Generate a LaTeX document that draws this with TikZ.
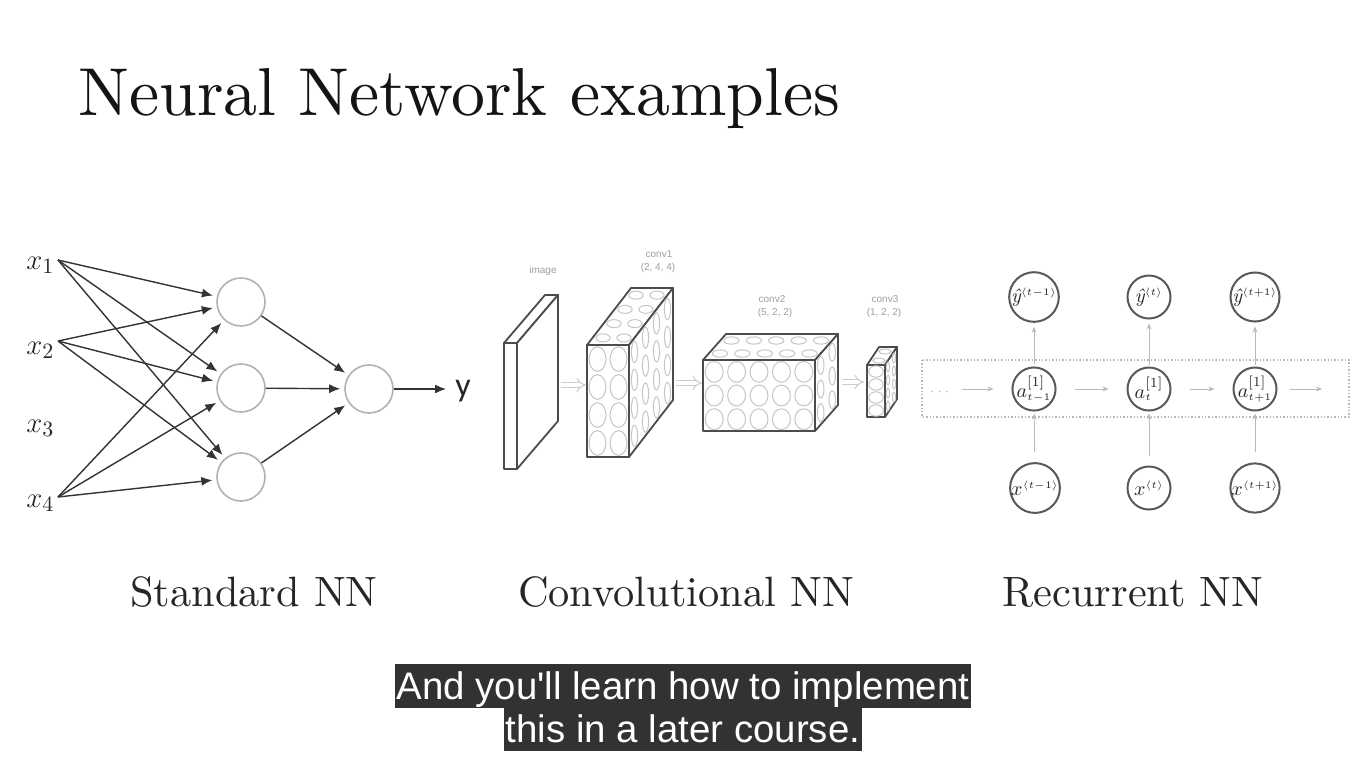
\documentclass[tikz,border=0pt]{standalone}
\usepackage{fontspec}
\usepackage{graphicx}
\usepackage{amsmath}
\usetikzlibrary{arrows.meta}
\newfontfamily\subfont{Liberation Sans}
\newfontfamily\yfont{Carlito}
\definecolor{subbg}{RGB}{50,50,50}

% A feature-map block: front face, top face, side face, each with its cells.
% #1,#2 front top-left; #3 width; #4 height; #5,#6 depth offset;
% #7 columns; #8 rows; #9 layers
\newcommand{\cnnblock}[9]{%
  \draw[cnnface] (#1,#2) -- ({#1+#5},{#2+#6}) -- ({#1+#3+#5},{#2+#6}) -- ({#1+#3},#2) -- cycle;
  \draw[cnnface] ({#1+#3},#2) -- ({#1+#3+#5},{#2+#6}) -- ({#1+#3+#5},{#2+#4+#6}) -- ({#1+#3},{#2+#4}) -- cycle;
  \draw[cnnface] (#1,#2) rectangle ({#1+#3},{#2+#4});
  \pgfmathsetmacro\frx{0.2*#3/#7}\pgfmathsetmacro\fry{0.22*#4/#8}
  \pgfmathsetmacro\trx{0.17*#3/#7}\pgfmathsetmacro\try{-0.14*#6/#9}
  \pgfmathsetmacro\srx{0.14*#5/#9}\pgfmathsetmacro\sry{0.19*#4/#8}
  \foreach \i in {1,...,#7}{\foreach \j in {1,...,#8}{
    \draw[cnncell] ({#1+(\i-0.5)*#3/#7},{#2+(\j-0.5)*#4/#8}) ellipse [x radius=\frx pt, y radius=\fry pt];}}
  \foreach \i in {1,...,#7}{\foreach \k in {1,...,#9}{
    \draw[cnncell] ({#1+(\i-0.5)*#3/#7+(\k-0.5)*#5/#9},{#2+(\k-0.5)*#6/#9}) ellipse [x radius=\trx pt, y radius=\try pt];}}
  \foreach \k in {1,...,#9}{\foreach \j in {1,...,#8}{
    \draw[cnncell] ({#1+#3+(\k-0.5)*#5/#9},{#2+(\j-0.5)*#4/#8+(\k-0.5)*#6/#9}) ellipse [x radius=\srx pt, y radius=\sry pt];}}
}
% predicted output y-hat, as one italic glyph
\newcommand{\yhat}{{\itshape ŷ}}

\begin{document}
\begin{tikzpicture}[x=0.5pt,y=-0.5pt,
  neuron/.style={circle, draw=gray!60, line width=0.8pt, minimum size=24pt, inner sep=0pt},
  edge/.style={draw=black!80, line width=0.7pt, -{Latex[length=5.5pt,width=4.5pt]}, shorten >=2pt},
  xlab/.style={anchor=base west, inner sep=0pt, font=\fontsize{15}{18}\selectfont, text=black!85},
  rnode/.style={circle, draw=black!65, line width=1pt, minimum size=21.5pt, inner sep=0pt,
    font=\fontsize{10}{11}\selectfont, text=black!85},
  rarrow/.style={draw=gray!55, line width=0.4pt, -{Stealth[length=3pt,width=2.4pt]}},
  cnnface/.style={fill=white, draw=black!70, line width=0.9pt, line join=round},
  cnncell/.style={draw=gray!45, line width=0.5pt},
  hollow/.style={draw=gray!40, double=white, double distance=2pt, line width=0.5pt, -{Implies}},
  tinylab/.style={font=\subfont\fontsize{5}{6}\selectfont, text=gray!75, inner sep=0pt},
  caption/.style={anchor=base, inner sep=0pt, text=black!85},
  subline/.style={anchor=base, fill=subbg, text=white, font=\subfont\fontsize{19.2}{22}\selectfont,
    inner xsep=1pt, inner ysep=0pt, text height=17.5pt, text depth=4.5pt}]

\useasboundingbox (0,0) rectangle (1366,768);
\fill[white] (0,0) rectangle (1366,768);

% Title
\node[anchor=base west, inner sep=0pt, text=black!92] (title) at (78,115)
  {\scalebox{3.39}{\fontsize{10}{12}\selectfont Neural Network examples}};

% ---------------- Standard NN ----------------
\node[xlab] (x1) at (26,269) {$x_1$};
\node[xlab] (x2) at (26,354) {$x_2$};
\node[xlab] (x3) at (26,432) {$x_3$};
\node[xlab] (x4) at (26,507) {$x_4$};
\coordinate (i1) at (58,260);
\coordinate (i2) at (58,341);
\coordinate (i4) at (58,497);

\node[neuron] (h1) at (241,302) {};
\node[neuron] (h2) at (241,388) {};
\node[neuron] (h3) at (241,477) {};
\node[neuron] (o) at (369,389) {};

\foreach \s in {i1,i2,i4}{\foreach \t in {h1,h2,h3}{\draw[edge] (\s) -- (\t);}}
\foreach \t in {h1,h2,h3}{\draw[edge] (\t) -- (o);}
\coordinate (yend) at (446,389);
\draw[edge, shorten >=0pt] (o) -- (yend);
\node[anchor=base west, inner sep=0pt, font=\yfont\fontsize{17}{18}\selectfont, text=black!85] (ylab) at (455,396) {y};

% ---------------- Convolutional NN ----------------
% input image slab
\draw[cnnface] (504,343) -- (545,295) -- (558,295) -- (517,343) -- cycle;
\draw[cnnface] (517,343) -- (558,295) -- (558,421) -- (517,469) -- cycle;
\draw[cnnface] (504,343) rectangle (517,469);

\cnnblock{587}{345}{42}{112}{44}{-57}{2}{4}{4}
\cnnblock{703}{360}{112}{71}{23}{-26}{5}{3}{2}
\cnnblock{867}{365}{18}{52}{12}{-18}{1}{4}{2}

\node[tinylab] (limg) at (543,271) {image};
\node[tinylab] (lc1a) at (659,254) {conv1};
\node[tinylab] (lc1b) at (658,268) {(2, 4, 4)};
\node[tinylab] (lc2a) at (772,299) {conv2};
\node[tinylab] (lc2b) at (775,313) {(5, 2, 2)};
\node[tinylab] (lc3a) at (885,299) {conv3};
\node[tinylab] (lc3b) at (884,313) {(1, 2, 2)};

\coordinate (p1s) at (561,385); \coordinate (p1e) at (586,385);
\coordinate (p2s) at (676,383); \coordinate (p2e) at (702,383);
\coordinate (p3s) at (842,382); \coordinate (p3e) at (864,382);
\draw[hollow] (p1s) -- (p1e);
\draw[hollow] (p2s) -- (p2e);
\draw[hollow] (p3s) -- (p3e);

% ---------------- Recurrent NN ----------------
\draw[gray!55, densely dotted, line width=0.7pt] (922,360) rectangle (1349,417);

\node[rnode] (y1) at (1034,297) {\yhat$^{\scriptscriptstyle\langle t-1\rangle}$};
\node[rnode] (y2) at (1149,297) {\yhat$^{\scriptscriptstyle\langle t\rangle}$};
\node[rnode] (y3) at (1255,297) {\yhat$^{\scriptscriptstyle\langle t+1\rangle}$};
\node[rnode] (a1) at (1034,389) {$a^{[1]}_{\scriptscriptstyle t-1}$};
\node[rnode] (a2) at (1149,389) {$a^{[1]}_{\scriptscriptstyle t}$};
\node[rnode] (a3) at (1255,389) {$a^{[1]}_{\scriptscriptstyle t+1}$};
\node[rnode] (r1) at (1035,488) {$x^{\scriptscriptstyle\langle t-1\rangle}$};
\node[rnode] (r2) at (1149,488) {$x^{\scriptscriptstyle\langle t\rangle}$};
\node[rnode] (r3) at (1255,488) {$x^{\scriptscriptstyle\langle t+1\rangle}$};

\node[text=gray!60, inner sep=0pt, font=\scriptsize] (dots) at (941,392) {$\cdots$};
\coordinate (hs) at (962,389);
\coordinate (he) at (1322,389);
\draw[rarrow, shorten >=9pt] (hs) -- (a1);
\draw[rarrow, shorten <=9pt, shorten >=9pt] (a1) -- (a2);
\draw[rarrow, shorten <=9pt, shorten >=9pt] (a2) -- (a3);
\draw[rarrow, shorten <=6pt] (a3) -- (he);
\foreach \n in {1,2,3}{
  \draw[rarrow, shorten <=1pt, shorten >=2pt] (a\n) -- (y\n);
  \draw[rarrow, shorten <=5pt, shorten >=1pt] (r\n) -- (a\n);
}

% ---------------- Captions ----------------
\node[caption] (capS) at (254,606) {\scalebox{2.12}{\fontsize{10}{12}\selectfont Standard NN}};
\node[caption] (capC) at (686,606) {\scalebox{2.12}{\fontsize{10}{12}\selectfont Convolutional NN}};
\node[caption] (capR) at (1133,606) {\scalebox{2.12}{\fontsize{10}{12}\selectfont Recurrent NN}};

% ---------------- Subtitle ----------------
\node[subline] (sub1) at (683,699) {And you\textquotesingle ll learn how to implement};
\node[subline] (sub2) at (683,742) {this in a later course.};
\end{tikzpicture}
\end{document}
